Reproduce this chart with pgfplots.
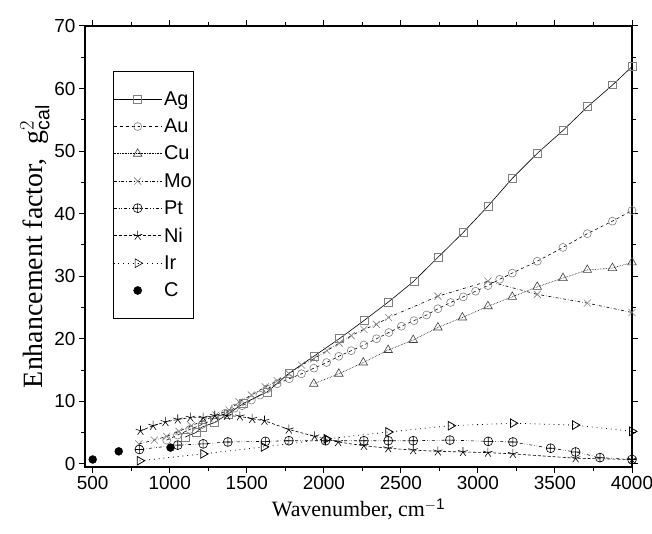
\documentclass[border=0pt]{standalone}
\usepackage{pgfplots}
\pgfplotsset{compat=1.18}
\usetikzlibrary{calc}
\usepackage{fontspec}
\setmainfont{Liberation Sans}
\newfontfamily\serif{Liberation Serif}
\begin{document}
\begin{tikzpicture}
\begin{axis}[name=ax,
  scale only axis, width=547bp, height=441bp,
  xmin=450, xmax=4000, ymin=-0.5, ymax=70,
  xtick={500,1000,...,4000}, minor x tick num=1,
  ytick={0,10,...,70}, minor y tick num=1,
  tick align=outside, tick pos=both,
  major tick length=6pt, minor tick length=4pt,
  every tick/.style={black, line width=1pt},
  axis line style={line width=1.2pt},
  /pgf/number format/assume math mode=true,
  /pgf/number format/1000 sep={},
  ticklabel style={font=\fontsize{19}{21}\selectfont},
  xlabel={\serif\fontsize{22}{24}\selectfont Wavenumber, cm$^{\mathrm{-1}}$},
  xlabel style={yshift=-2pt},
  ylabel={\serif\fontsize{28}{30}\selectfont Enhancement factor, \ g$^{2}_{\mathrm{cal}}$},
  ylabel style={yshift=-2pt},
  legend style={at={(0.051,0.897)}, anchor=north west, draw=black, line width=0.8pt,
    font=\fontsize{20}{22}\selectfont, row sep=8pt, inner ysep=18pt, inner xsep=0pt},
  legend cell align=left,
  legend image code/.code={\draw[#1,line width=0.6pt,mark repeat=2,mark phase=2] plot coordinates {(0cm,0cm) (0.85cm,0cm) (1.7cm,0cm)};},
  mark size=3.5pt,
]
\addplot[black, solid, mark=square, mark options={gray, solid, mark size=4pt}, line width=0.6pt] coordinates {
(1100,4.3)(1170,5.0)(1210,5.9)(1290,6.6)(1380,8.0)(1480,9.7)(1632,11.5)(1775,14.5)(1935,17.2)(2100,20.0)(2260,22.9)(2420,25.9)(2584,29.2)(2740,33.0)(2905,37.0)(3065,41.2)(3225,45.7)(3388,49.7)(3552,53.3)(3712,57.1)(3875,60.6)(4000,63.5)};
\addlegendentry{Ag}
\addplot[black, dashed, mark=o, mark options={gray, solid, mark size=4pt}, line width=0.6pt] coordinates {
(980,3.8)(1050,4.6)(1130,5.5)(1210,6.3)(1290,7.2)(1360,8.1)(1420,8.9)(1470,9.3)(1530,10.2)(1585,11.0)(1632,12.0)(1697,12.8)(1775,13.6)(1855,14.4)(1935,15.3)(2018,16.2)(2097,17.2)(2178,18.1)(2260,19.0)(2342,20.0)(2422,21.0)(2503,22.0)(2585,22.9)(2667,23.8)(2740,24.8)(2823,25.8)(2905,26.7)(2985,27.6)(3065,28.5)(3141,29.5)(3223,30.5)(3385,32.4)(3552,34.6)(3710,36.8)(3873,38.8)(4000,40.5)};
\addlegendentry{Au}
\addplot[black, densely dotted, mark=triangle, mark options={black!75, solid, mark size=5pt}, line width=0.6pt] coordinates {
(1935,12.8)(2097,14.4)(2256,16.2)(2417,18.2)(2580,19.8)(2740,21.8)(2899,23.4)(3065,25.2)(3223,26.7)(3385,28.3)(3552,29.7)(3710,31.0)(3873,31.3)(4000,32.2)};
\addlegendentry{Cu}
\addplot[black, dashdotted, mark=x, mark options={gray, solid, mark size=5pt}, line width=0.6pt] coordinates {
(800,3.2)(900,3.8)(980,4.4)(1060,5.2)(1140,6.1)(1220,6.9)(1300,7.8)(1385,8.6)(1450,9.9)(1530,11.0)(1620,12.3)(1697,13.3)(1775,14.4)(1855,15.8)(1935,16.8)(2020,18.1)(2100,19.3)(2178,20.5)(2260,21.5)(2342,22.3)(2420,23.4)(2740,26.8)(3065,29.2)(3385,27.1)(3710,25.7)(4000,24.2)};
\addlegendentry{Mo}
\addplot[black, dash dot dot, mark=oplus, mark options={black, solid, mark size=4.5pt}, line width=0.6pt] coordinates {
(803,2.3)(1052,3.0)(1217,3.2)(1377,3.5)(1621,3.6)(1773,3.7)(2011,3.7)(2260,3.7)(2418,3.7)(2580,3.7)(2818,3.8)(3067,3.6)(3227,3.5)(3472,2.5)(3634,1.9)(3792,1.0)(4000,0.7)};
\addlegendentry{Pt}
\addplot[black, densely dashed, mark=star, mark options={black, solid, fill=black, mark size=5pt}, line width=0.6pt] coordinates {
(810,5.3)(892,6.1)(972,6.7)(1052,7.1)(1134,7.4)(1217,7.4)(1292,7.7)(1372,7.7)(1455,7.6)(1535,7.2)(1615,6.9)(1773,5.5)(1940,4.4)(2093,3.5)(2260,2.9)(2418,2.5)(2580,2.2)(2740,2.0)(2903,1.9)(3065,1.8)(3227,1.6)(3634,0.9)(4000,0.7)};
\addlegendentry{Ni}
\addplot[black, loosely dotted, mark=triangle, mark options={black, solid, rotate=-90, mark size=5pt}, line width=0.8pt] coordinates {
(805,0.5)(1217,1.6)(1610,2.7)(2018,4.0)(2418,5.1)(2823,6.1)(3227,6.5)(3630,6.2)(4000,5.2)};
\addlegendentry{Ir}
\addplot[only marks, mark=*, mark options={black, mark size=4pt}] coordinates {(500,0.7)(669,2.0)(1005,2.6)};
\addlegendentry{C}
\end{axis}
\pgfresetboundingbox
\path ($(ax.south west)+(-85bp,-67bp)$) rectangle ($(ax.north east)+(20bp,26bp)$);
\end{tikzpicture}
\end{document}
